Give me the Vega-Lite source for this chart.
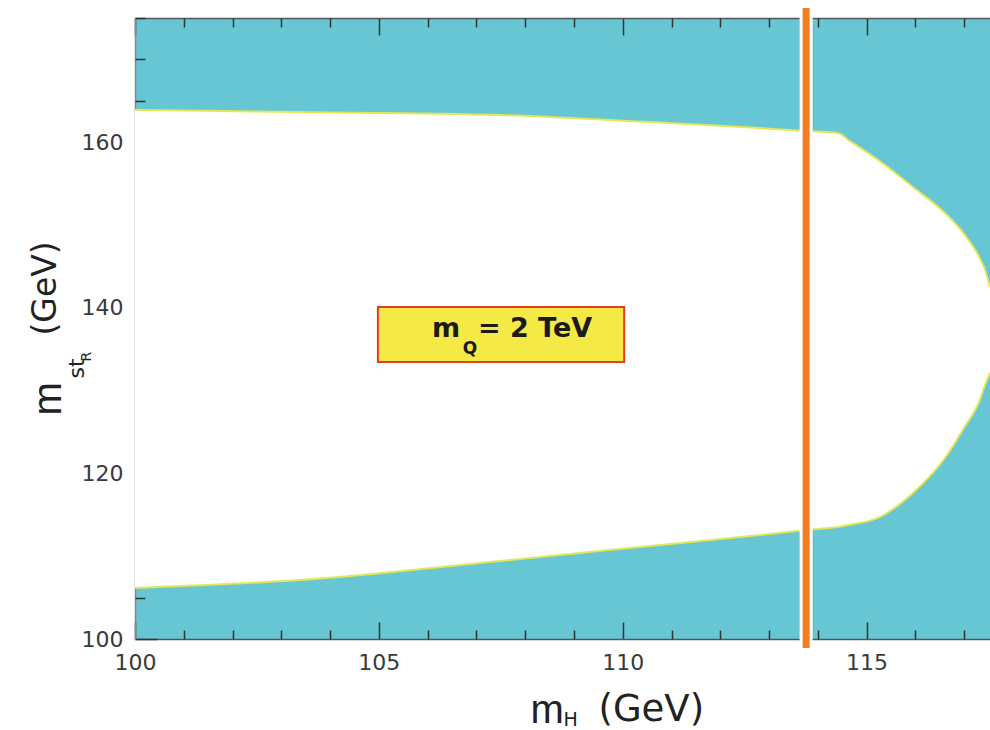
{
  "$schema": "https://vega.github.io/schema/vega-lite/v6.json",
  "width": 855,
  "height": 621,
  "autosize": {"type": "none"},
  "padding": {"left": 135, "top": 18, "right": 0, "bottom": 91},
  "background": "white",
  "config": {
    "view": {"fill": "#66c6d4", "stroke": null},
    "axis": {
      "grid": false,
      "labelFont": "DejaVu Sans",
      "titleFont": "DejaVu Sans",
      "labelColor": "#3a3a3a",
      "titleColor": "#222222",
      "titleFontWeight": "normal",
      "labelFontSize": 22,
      "labelFlush": false,
      "labelOverlap": false,
      "tickColor": "#333333",
      "tickWidth": 1.5,
      "domainColor": "#555555",
      "domainWidth": 1.5
    }
  },
  "datasets": {
    "bound": [
      {"mH": 100.00, "upper": 163.89, "lower": 106.16},
      {"mH": 103.38, "upper": 163.65, "lower": 107.13},
      {"mH": 107.48, "upper": 163.29, "lower": 109.42},
      {"mH": 110.56, "upper": 162.44, "lower": 111.23},
      {"mH": 112.81, "upper": 161.71, "lower": 112.56},
      {"mH": 113.76, "upper": 161.35, "lower": 113.16},
      {"mH": 114.41, "upper": 161.11, "lower": 113.53},
      {"mH": 114.66, "upper": 160.14, "lower": 113.80},
      {"mH": 115.27, "upper": 157.73, "lower": 114.73},
      {"mH": 115.95, "upper": 154.59, "lower": 117.63},
      {"mH": 116.65, "upper": 151.21, "lower": 122.22},
      {"mH": 116.97, "upper": 149.15, "lower": 125.24},
      {"mH": 117.32, "upper": 146.01, "lower": 128.86},
      {"mH": 117.43, "upper": 144.57, "lower": 130.68},
      {"mH": 117.53, "upper": 142.51, "lower": 132.13}
    ],
    "lep": [{"mH": 113.76, "ylo": 98.9, "yhi": 176.2}],
    "box": [{"x1": 104.98, "x2": 110.03, "y1": 133.45, "y2": 140.1}],
    "label": [
      {"mH": 106.09, "mst": 136.47, "text": "m"},
      {"mH": 107.03, "mst": 136.47, "text": "= 2 TeV"}
    ],
    "sub": [{"mH": 106.72, "mst": 134.42, "text": "Q"}]
  },
  "resolve": {"axis": {"x": "independent", "y": "independent"}},
  "layer": [
    {
      "data": {"name": "bound"},
      "mark": {"type": "area", "color": "white", "clip": true, "interpolate": "monotone"},
      "encoding": {
        "x": {"field": "mH", "type": "quantitative",
          "scale": {"domain": [100, 117.53], "nice": false, "zero": false},
          "axis": {"orient": "bottom", "values": [100, 105, 110, 115], "tickSize": -17, "labelPadding": 30,
            "domain": true, "title": "m", "titleX": 395, "titleY": 83, "titleAlign": "left", "titleFont": "Liberation Sans",
            "titleBaseline": "alphabetic", "titleFontSize": 40, "titleAngle": 0}},
        "y": {"field": "lower", "type": "quantitative",
          "scale": {"domain": [100, 175], "nice": false, "zero": false},
          "axis": {"orient": "left", "values": [100, 120, 140, 160], "tickSize": -22, "labelPadding": 34,
            "domain": true, "domainColor": "#888888", "title": "m", "titleX": -75, "titleY": 397, "titleAngle": 270, "titleAlign": "left",
            "titleBaseline": "alphabetic", "titleFontSize": 40, "titleFont": "Liberation Sans"}},
        "y2": {"field": "upper"}
      }
    },
    {
      "data": {"name": "bound"},
      "mark": {"type": "line", "color": "#e4e655", "strokeWidth": 2, "clip": true, "interpolate": "monotone"},
      "encoding": {
        "x": {"field": "mH", "type": "quantitative",
          "scale": {"domain": [100, 117.53], "nice": false, "zero": false},
          "axis": {"orient": "bottom", "values": [101, 102, 103, 104, 106, 107, 108, 109, 111, 112, 113, 114, 116, 117],
            "tickSize": -9, "labels": false, "domain": false, "title": "H", "titleX": 428, "titleY": 86,
            "titleAlign": "left", "titleBaseline": "alphabetic", "titleFontSize": 19, "titleAngle": 0}},
        "y": {"field": "upper", "type": "quantitative",
          "scale": {"domain": [100, 175], "nice": false, "zero": false},
          "axis": {"orient": "left", "values": [105, 110, 115, 125, 130, 135, 145, 150, 155, 165, 170, 175],
            "tickSize": -10, "labels": false, "domain": false, "title": "st", "titleX": -52, "titleY": 360,
            "titleAngle": 270, "titleAlign": "left", "titleBaseline": "alphabetic", "titleFontSize": 22}}
      }
    },
    {
      "data": {"name": "bound"},
      "mark": {"type": "line", "color": "#e4e655", "strokeWidth": 2, "clip": true, "interpolate": "monotone"},
      "encoding": {
        "x": {"field": "mH", "type": "quantitative",
          "scale": {"domain": [100, 117.53], "nice": false, "zero": false},
          "axis": {"orient": "top", "values": [100, 105, 110, 115], "tickSize": -17, "labels": false,
            "domain": true, "title": null}},
        "y": {"field": "lower", "type": "quantitative",
          "scale": {"domain": [100, 175], "nice": false, "zero": false},
          "axis": {"orient": "left", "ticks": false, "labels": false, "domain": false, "title": "R",
            "titleX": -45, "titleY": 343, "titleAngle": 270, "titleAlign": "left", "titleBaseline": "alphabetic",
            "titleFontSize": 14}}
      }
    },
    {
      "data": {"name": "lep"},
      "mark": {"type": "rule", "color": "white", "strokeWidth": 13, "clip": false},
      "encoding": {
        "x": {"field": "mH", "type": "quantitative",
          "scale": {"domain": [100, 117.53], "nice": false, "zero": false},
          "axis": {"orient": "top", "values": [101, 102, 103, 104, 106, 107, 108, 109, 111, 112, 113, 114, 116, 117],
            "tickSize": -9, "labels": false, "domain": false, "title": null}},
        "y": {"field": "ylo", "type": "quantitative",
          "scale": {"domain": [100, 175], "nice": false, "zero": false},
          "axis": {"orient": "left", "ticks": false, "labels": false, "domain": false, "title": "(GeV)",
            "titleX": -80, "titleY": 317, "titleAngle": 270, "titleAlign": "left", "titleBaseline": "alphabetic",
            "titleFontSize": 33}},
        "y2": {"field": "yhi"}
      }
    },
    {
      "data": {"name": "lep"},
      "mark": {"type": "rule", "color": "#f47b20", "strokeWidth": 7, "clip": false},
      "encoding": {
        "x": {"field": "mH", "type": "quantitative",
          "scale": {"domain": [100, 117.53], "nice": false, "zero": false},
          "axis": {"orient": "bottom", "ticks": false, "labels": false, "domain": false, "title": "(GeV)",
            "titleX": 463, "titleY": 81, "titleAlign": "left", "titleBaseline": "alphabetic",
            "titleFontSize": 37, "titleAngle": 0}},
        "y": {"field": "ylo", "type": "quantitative",
          "scale": {"domain": [100, 175], "nice": false, "zero": false}, "axis": null},
        "y2": {"field": "yhi"}
      }
    },
    {
      "data": {"name": "box"},
      "mark": {"type": "rect", "fill": "#f5e945", "stroke": "#e2401f", "strokeWidth": 2},
      "encoding": {
        "x": {"field": "x1", "type": "quantitative",
          "scale": {"domain": [100, 117.53], "nice": false, "zero": false}, "axis": null},
        "x2": {"field": "x2"},
        "y": {"field": "y1", "type": "quantitative",
          "scale": {"domain": [100, 175], "nice": false, "zero": false}, "axis": null},
        "y2": {"field": "y2"}
      }
    },
    {
      "data": {"name": "label"},
      "mark": {"type": "text", "font": "DejaVu Sans", "fontWeight": "bold", "fontSize": 27, "align": "left",
        "baseline": "alphabetic", "color": "#1a1a1a"},
      "encoding": {
        "x": {"field": "mH", "type": "quantitative",
          "scale": {"domain": [100, 117.53], "nice": false, "zero": false}, "axis": null},
        "y": {"field": "mst", "type": "quantitative",
          "scale": {"domain": [100, 175], "nice": false, "zero": false}, "axis": null},
        "text": {"field": "text"}
      }
    },
    {
      "data": {"name": "sub"},
      "mark": {"type": "text", "font": "DejaVu Sans", "fontWeight": "bold", "fontSize": 17, "align": "left",
        "baseline": "alphabetic", "color": "#1a1a1a"},
      "encoding": {
        "x": {"field": "mH", "type": "quantitative",
          "scale": {"domain": [100, 117.53], "nice": false, "zero": false}, "axis": null},
        "y": {"field": "mst", "type": "quantitative",
          "scale": {"domain": [100, 175], "nice": false, "zero": false}, "axis": null},
        "text": {"field": "text"}
      }
    }
  ]
}
